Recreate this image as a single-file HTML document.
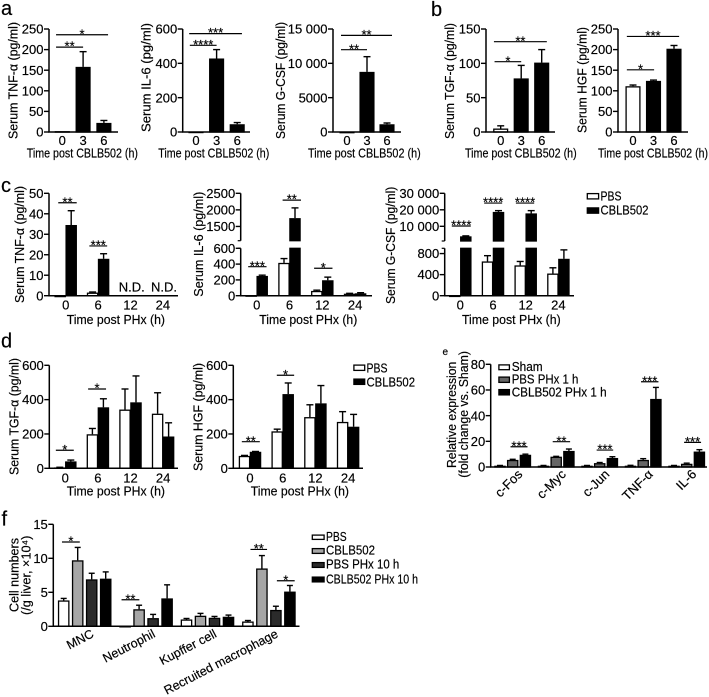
<!DOCTYPE html>
<html lang="en">
<head>
<meta charset="utf-8">
<title>Serum cytokine and cell number charts</title>
<style>
html,body{margin:0;padding:0;background:#fff;}
svg{display:block;font-family:"Liberation Sans",sans-serif;fill:#000;}
text{stroke:#000;stroke-width:.18px;}
</style>
</head>
<body>
<svg id="figure" width="709" height="697" viewBox="0 0 709 697" xmlns="http://www.w3.org/2000/svg"></svg>
<script>
// ---------- DATA ----------
const timeCbl = ['0', '3', '6'];
const timePhx = ['0', '6', '12', '24'];
const geneCats = ['c-Fos', 'c-Myc', 'c-Jun', 'TNF-α', 'IL-6'];
const cellCats = ['MNC', 'Neutrophil', 'Kupffer cell', 'Recruited macrophage'];

const a1Values = [2, 158, 22];
const a1Tops = [2, 195, 28];
const a1Ticks = [0, 50, 100, 150, 200, 250];
const a1Labels = ['0', '50', '100', '150', '200', '250'];

const a2Values = [2, 428, 45];
const a2Tops = [2, 480, 55];
const a2Ticks = [0, 200, 400, 600];
const a2Labels = ['0', '200', '400', '600'];

const a3Values = [30, 8750, 1120];
const a3Tops = [30, 10970, 1310];
const a3Ticks = [0, 5000, 10000, 15000];
const a3Labels = ['0', '5000', '10 000', '15 000'];

const b1Values = [5, 78, 101];
const b1Tops = [9, 97, 120];
const b1Ticks = [0, 50, 100, 150];
const b1Labels = ['0', '50', '100', '150'];

const b2Values = [111, 124, 202];
const b2Tops = [114, 126, 210];
const b2Ticks = [0, 50, 100, 150, 200, 250];
const b2Labels = ['0', '50', '100', '150', '200', '250'];

const c1Pbs = [0, 1.5, null, null];
const c1PbsTops = [0, 1.8, null, null];
const c1Cbl = [34.5, 18, null, null];
const c1CblTops = [41.5, 20.5, null, null];
const c1Ticks = [0, 10, 20, 30, 40, 50];
const c1Labels = ['0', '10', '20', '30', '40', '50'];

const c2Pbs = [5, 415, 60, 25];
const c2PbsTops = [5, 470, 70, 30];
const c2Cbl = [250, 1750, 195, 30];
const c2CblTops = [260, 2060, 235, 38];
const c2Ticks = [0, 200, 400, 600, 1500, 2000, 2500];
const c2Labels = ['0', '200', '400', '600', '1500', '2000', '2500'];

const c3Pbs = [3, 650, 575, 420];
const c3PbsTops = [3, 760, 650, 530];
const c3Cbl = [3900, 18700, 17800, 700];
const c3CblTops = [4200, 19500, 19500, 870];
const c3Ticks = [0, 400, 800, 10000, 20000, 30000];
const c3Labels = ['0', '400', '800', '10 000', '20 000', '30 000'];

const d1Pbs = [5, 198, 342, 318];
const d1PbsTops = [6, 232, 462, 440];
const d1Cbl = [40, 355, 384, 185];
const d1CblTops = [48, 405, 538, 265];
const d1Ticks = [0, 200, 400, 600];
const d1Labels = ['0', '200', '400', '600'];

const d2Pbs = [72, 215, 298, 270];
const d2PbsTops = [75, 228, 370, 330];
const d2Cbl = [96, 432, 378, 242];
const d2CblTops = [98, 497, 482, 314];
const d2Ticks = [0, 200, 400, 600];
const d2Labels = ['0', '200', '400', '600'];

const eSham = [1, 1, 1, 1, 1];
const eShamTops = [1.2, 1.2, 1.2, 1.3, 1.2];
const ePbs = [5.5, 8, 3, 5.5, 2.5];
const ePbsTops = [6, 8.3, 3.5, 6.5, 3];
const eCbl = [9.5, 12.5, 7, 53, 12];
const eCblTops = [10, 14, 8, 62, 13.5];
const eTicks = [0, 20, 40, 60, 80];
const eLabels = ['0', '20', '40', '60', '80'];

const fPbs = [3.8, 0.05, 1.0, 0.7];
const fPbsTops = [4.1, 0.05, 1.15, 0.85];
const fCbl = [9.7, 2.5, 1.55, 8.5];
const fCblTops = [11.6, 3.1, 1.9, 10.4];
const fPbsPhx = [6.9, 1.2, 1.25, 2.4];
const fPbsPhxTops = [7.8, 1.75, 1.45, 2.95];
const fCblPhx = [7.0, 4.1, 1.4, 5.1];
const fCblPhxTops = [8.0, 6.1, 1.65, 6.0];
const fTicks = [0, 5, 10, 15];
const fLabels = ['0', '5', '10', '15'];

// significance annotations: [from category, to category, axis value, stars]
const a1Sig = [[-0.3, 2.2, 236, '*'], [-0.3, 1, 206, '**']];
const a2Sig = [[-0.33, 2.23, 573, '***'], [-0.3, 1, 505, '****']];
const a3Sig = [[-0.3, 2.25, 14070, '**'], [-0.3, 1, 11990, '**']];
const b1Sig = [[-0.33, 2.25, 131.5, '**'], [-0.3, 1, 102.4, '*']];
const b2Sig = [[-0.3, 2.25, 232, '***'], [-0.3, 1.03, 151, '*']];
const c1Sig = [[-0.23, 0.34, 45.4, '**'], [0.73, 1.28, 24.3, '***']];
const c2Sig = [[-0.26, 0.3, 367, '***'], [0.79, 1.35, 2294, '**'], [1.75, 2.31, 347, '*']];
const c3Sig = [[-0.26, 0.32, 10200, '****'], [0.73, 1.28, 24100, '****'], [1.7, 2.26, 24100, '****']];
const d1Sig = [[-0.29, 0.26, 105, '*'], [0.7, 1.25, 462, '*']];
const d2Sig = [[-0.25, 0.3, 155, '**'], [0.82, 1.35, 542, '*']];
const eSig = [[-0.05, 0.34, 15.8, '***'], [0.92, 1.32, 19.7, '**'], [1.93, 2.31, 13.2, '***'], [2.95, 3.35, 66.4, '***'], [3.94, 4.33, 19.2, '***']];
const fSig = [[-0.37, -0.08, 12.4, '*'], [0.6, 0.89, 3.9, '**'], [2.7, 2.97, 11.3, '**'], [3.13, 3.42, 6.7, '*']];

// ---------- DRAWING HELPERS ----------
const NS = 'http://www.w3.org/2000/svg';
const root = document.getElementById('figure');

function make(tag, attrs, parent, name) {
  const el = document.createElementNS(NS, tag);
  for (const k in attrs) el.setAttribute(k, attrs[k]);
  
  
  parent.appendChild(el);
  return el;
}
function text(str, attrs, parent, name) {
  const el = make('text', attrs, parent, name);
  el.textContent = str;
  return el;
}
function line(x1, y1, x2, y2, w, parent, name) {
  return make('line', {x1: x1, y1: y1, x2: x2, y2: y2, stroke: '#000', 'stroke-width': w}, parent, name);
}
function linear(d0, d1, p0, p1) {
  return v => p0 + (v - d0) / (d1 - d0) * (p1 - p0);
}
function broken(lowMax, lowP0, lowP1, upMin, upMax, upP0, upP1) {
  const lo = linear(0, lowMax, lowP0, lowP1);
  const up = linear(upMin, upMax, upP0, upP1);
  const f = v => v <= lowMax ? lo(v) : up(Math.max(v, upMin));
  f.lowMax = lowMax;
  f.lowTop = lowP1;
  f.upBottom = upP0;
  return f;
}
function yTitle(str, x, y0, y1, parent, name) {
  const my = (y0 + y1) / 2;
  text(str, {x: x, y: my, 'font-size': 13, 'text-anchor': 'middle', textLength: y1 - y0, lengthAdjust: 'spacingAndGlyphs', transform: 'rotate(-90 ' + x + ' ' + my + ')'}, parent, name);
}
function xTitle(str, x0, x1, y, parent, name) {
  text(str, {x: (x0 + x1) / 2, y: y, 'font-size': 13, 'text-anchor': 'middle', textLength: x1 - x0, lengthAdjust: 'spacingAndGlyphs'}, parent, name);
}
function panelLetter(str, x, y, size) {
  text(str, {x: x, y: y, 'font-size': size}, root, 'panel-letter-' + str);
}

function drawBar(g, xc, w, base, sc, value, fill, name) {
  const x = xc - w / 2 + 0.6, bw = w - 1.2;
  const attrs = {x: x, width: bw, fill: fill, stroke: '#000', 'stroke-width': 1.3};
  if (sc.lowMax !== undefined && value > sc.lowMax) {
    make('rect', Object.assign({y: sc.lowTop, height: base - sc.lowTop}, attrs), g, name + '-lower');
    const top = sc(value);
    make('rect', Object.assign({y: top + 0.6, height: Math.max(sc.upBottom - top - 0.6, 0)}, attrs), g, name);
  } else {
    const top = sc(value);
    make('rect', Object.assign({y: top + 0.6, height: Math.max(base - top - 0.6, 0.3)}, attrs), g, name);
  }
}

function drawPanel(p) {
  const g = make('g', {}, root, 'panel-' + p.id);
  const sc = p.scale;
  const at = i => p.c0 + i * p.step;

  p.series.forEach(s => {
    s.values.forEach((v, i) => {
      if (v === null) return;
      const xc = at(i) + s.offset;
      const top = s.tops[i];
      if (top !== null && top > v) {
        line(xc, sc(top), xc, sc(v), 1.4, g, 'error-stem');
        line(xc - p.cap / 2, sc(top), xc + p.cap / 2, sc(top), 1.4, g, 'error-cap');
      }
      drawBar(g, xc, p.barW, p.base, sc, v, s.fill, 'bar-' + s.key + '-' + p.cats[i]);
    });
  });

  // x axis
  line(p.axisX - 0.7, p.base, p.xEnd, p.base, 1.5, g, 'x-axis');
  // y axis
  if (sc.lowMax !== undefined) {
    line(p.axisX, p.base, p.axisX, sc.lowTop, 1.5, g, 'y-axis-lower');
    line(p.axisX, sc.upBottom, p.axisX, p.top, 1.5, g, 'y-axis-upper');
    line(p.axisX - 3, sc.lowTop, p.axisX, sc.lowTop, 1.2, g, 'axis-break-tick');
    line(p.axisX - 3, sc.upBottom, p.axisX, sc.upBottom, 1.2, g, 'axis-break-tick');
  } else {
    line(p.axisX, p.base, p.axisX, p.top, 1.5, g, 'y-axis');
  }
  p.ticks.forEach((t, i) => {
    const y = sc(t);
    line(p.axisX - 5, y, p.axisX, y, 1.4, g, 'y-tick');
    text(p.tickLabels[i], {x: p.axisX - 5.5, y: y + 4.6, 'font-size': 13, 'text-anchor': 'end'}, g, 'y-tick-label');
  });

  // category labels
  p.cats.forEach((c, i) => {
    if (p.rot) {
      const x = at(i) + p.rotDx, y = p.rotY;
      text(c, {x: x, y: y, 'font-size': p.rotSize, 'text-anchor': 'end', transform: 'rotate(' + p.rot + ' ' + x + ' ' + y + ')'}, g, 'x-tick-label');
    } else {
      text(c, {x: at(i), y: p.labelY, 'font-size': 13, 'text-anchor': 'middle'}, g, 'x-tick-label');
    }
  });

  // significance brackets
  p.sig.forEach(s => {
    const x0 = at(s[0]), x1 = at(s[1]), y = sc(s[2]);
    line(x0, y, x1, y, 1.2, g, 'significance-line');
    text(s[3], {x: (x0 + x1) / 2, y: y + 3.6, 'font-size': 13, 'text-anchor': 'middle'}, g, 'significance-stars');
  });
}

function legend(items, g) {
  items.forEach(it => {
    make('rect', {x: it.x + 0.6, y: it.y + 0.6, width: it.w - 1.2, height: it.h - 1.2, fill: it.fill, stroke: '#000', 'stroke-width': 1.3}, g, 'legend-swatch-' + it.label);
    text(it.label, {x: it.tx, y: it.ty, 'font-size': 13, textLength: it.tw, lengthAdjust: 'spacingAndGlyphs'}, g, 'legend-entry-' + it.label);
  });
}

// ---------- PANELS ----------
const Y_A = 132, TOP_A = 29;
const aScale = m => linear(0, m, Y_A, TOP_A);
const single = (v, t) => [{key: 'mean', values: v, tops: t, fill: '#000', offset: 0}];
const whiteFirst = (v, t) => [
  {key: 'control', values: v.slice(0, 1), tops: t.slice(0, 1), fill: '#fff', offset: 0},
  {key: 'treated', values: [null].concat(v.slice(1)), tops: [null].concat(t.slice(1)), fill: '#000', offset: 0}
];

panelLetter('a', 1, 15, 20);
panelLetter('b', 431, 16, 20);
panelLetter('c', 1, 192, 20);
panelLetter('d', 1, 347.5, 20);
panelLetter('e', 442.5, 355, 10);
panelLetter('f', 1.5, 525.5, 20);

drawPanel({id: 'a-tnf', axisX: 49, xEnd: 118, base: Y_A, top: TOP_A, scale: aScale(250), c0: 62.3, step: 20.8, cats: timeCbl, barW: 15, cap: 7, labelY: 145, ticks: a1Ticks, tickLabels: a1Labels, sig: a1Sig, series: single(a1Values, a1Tops)});
yTitle('Serum TNF-α (pg/ml)', 17.5, 22, 139, root, 'y-axis-title-a-tnf');
xTitle('Time post CBLB502 (h)', 26.7, 138, 157.7, root, 'x-axis-title-a-tnf');

drawPanel({id: 'a-il6', axisX: 182.7, xEnd: 250, base: Y_A, top: TOP_A, scale: aScale(600), c0: 196, step: 20.6, cats: timeCbl, barW: 15, cap: 7, labelY: 145, ticks: a2Ticks, tickLabels: a2Labels, sig: a2Sig, series: single(a2Values, a2Tops)});
yTitle('Serum IL-6 (pg/ml)', 150.7, 23, 132, root, 'y-axis-title-a-il6');
xTitle('Time post CBLB502 (h)', 158.3, 269.3, 157.7, root, 'x-axis-title-a-il6');

drawPanel({id: 'a-gcsf', axisX: 333, xEnd: 401, base: Y_A, top: TOP_A, scale: aScale(15000), c0: 347, step: 20, cats: timeCbl, barW: 15, cap: 7, labelY: 145, ticks: a3Ticks, tickLabels: a3Labels, sig: a3Sig, series: single(a3Values, a3Tops)});
yTitle('Serum G-CSF (pg/ml)', 285, 22, 139, root, 'y-axis-title-a-gcsf');
xTitle('Time post CBLB502 (h)', 308, 420.7, 157.7, root, 'x-axis-title-a-gcsf');

drawPanel({id: 'b-tgf', axisX: 486, xEnd: 555, base: Y_A, top: TOP_A, scale: aScale(150), c0: 500.7, step: 20.5, cats: timeCbl, barW: 15, cap: 7, labelY: 145, ticks: b1Ticks, tickLabels: b1Labels, sig: b1Sig, series: whiteFirst(b1Values, b1Tops)});
yTitle('Serum TGF-α (pg/ml)', 454, 23, 139, root, 'y-axis-title-b-tgf');
xTitle('Time post CBLB502 (h)', 465, 576.7, 157.7, root, 'x-axis-title-b-tgf');

drawPanel({id: 'b-hgf', axisX: 618, xEnd: 688, base: Y_A, top: TOP_A, scale: aScale(250), c0: 633, step: 20.5, cats: timeCbl, barW: 15, cap: 7, labelY: 145, ticks: b2Ticks, tickLabels: b2Labels, sig: b2Sig, series: whiteFirst(b2Values, b2Tops)});
yTitle('Serum HGF (pg/ml)', 586.7, 27, 133, root, 'y-axis-title-b-hgf');
xTitle('Time post CBLB502 (h)', 598, 708, 157.7, root, 'x-axis-title-b-hgf');

const pair = (a, at, b, bt) => [
  {key: 'pbs', values: a, tops: at, fill: '#fff', offset: -5.5},
  {key: 'cblb502', values: b, tops: bt, fill: '#000', offset: 5.5}
];

drawPanel({id: 'c-tnf', axisX: 49, xEnd: 178, base: 295.7, top: 193.3, scale: linear(0, 50, 295.7, 193.3), c0: 65.7, step: 32.4, cats: timePhx, barW: 11.4, cap: 7, labelY: 309.3, ticks: c1Ticks, tickLabels: c1Labels, sig: c1Sig, series: pair(c1Pbs, c1PbsTops, c1Cbl, c1CblTops)});
yTitle('Serum TNF-α (pg/ml)', 24, 186, 303, root, 'y-axis-title-c-tnf');
xTitle('Time post PHx (h)', 66.7, 165, 324, root, 'x-axis-title-c-tnf');
text('N.D.', {x: 131.7, y: 291.7, 'font-size': 13, 'text-anchor': 'middle'}, root, 'not-detected-12h');
text('N.D.', {x: 164, y: 291.7, 'font-size': 13, 'text-anchor': 'middle'}, root, 'not-detected-24h');

drawPanel({id: 'c-il6', axisX: 240.7, xEnd: 372, base: 295.7, top: 193.3, scale: broken(600, 295.7, 248.3, 1070, 2500, 240.7, 193.3), c0: 256.7, step: 32.8, cats: timePhx, barW: 11.4, cap: 7, labelY: 309.3, ticks: c2Ticks, tickLabels: c2Labels, sig: c2Sig, series: pair(c2Pbs, c2PbsTops, c2Cbl, c2CblTops)});
yTitle('Serum IL-6 (pg/ml)', 203, 191.7, 296.7, root, 'y-axis-title-c-il6');
xTitle('Time post PHx (h)', 259.3, 357.3, 324, root, 'x-axis-title-c-il6');

drawPanel({id: 'c-gcsf', axisX: 444.7, xEnd: 574, base: 295.7, top: 193.3, scale: broken(900, 295.7, 248.3, 1100, 30000, 241, 193.3), c0: 460.3, step: 32.7, cats: timePhx, barW: 11.4, cap: 7, labelY: 309.3, ticks: c3Ticks, tickLabels: c3Labels, sig: c3Sig, series: pair(c3Pbs, c3PbsTops, c3Cbl, c3CblTops)});
yTitle('Serum G-CSF (pg/ml)', 395, 186.7, 304, root, 'y-axis-title-c-gcsf');
xTitle('Time post PHx (h)', 462, 560.7, 324, root, 'x-axis-title-c-gcsf');

const legendC = make('g', {}, root, 'legend-c');
legend([
  {label: 'PBS', fill: '#fff', x: 586.7, y: 193, w: 12.5, h: 6.5, tx: 600.5, ty: 200.5, tw: 21},
  {label: 'CBLB502', fill: '#000', x: 586.7, y: 207.3, w: 12.5, h: 6.5, tx: 600.5, ty: 214.5, tw: 48}
], legendC);

drawPanel({id: 'd-tgf', axisX: 49.3, xEnd: 178, base: 468.3, top: 365.3, scale: linear(0, 600, 468.3, 365.3), c0: 65.3, step: 32.6, cats: timePhx, barW: 11.4, cap: 7, labelY: 482.3, ticks: d1Ticks, tickLabels: d1Labels, sig: d1Sig, series: pair(d1Pbs, d1PbsTops, d1Cbl, d1CblTops)});
yTitle('Serum TGF-α (pg/ml)', 18.7, 358, 475, root, 'y-axis-title-d-tgf');
xTitle('Time post PHx (h)', 66.7, 165, 495.7, root, 'x-axis-title-d-tgf');

drawPanel({id: 'd-hgf', axisX: 233.3, xEnd: 363, base: 468.3, top: 365.3, scale: linear(0, 600, 468.3, 365.3), c0: 250, step: 32.7, cats: timePhx, barW: 11.4, cap: 7, labelY: 482.3, ticks: d2Ticks, tickLabels: d2Labels, sig: d2Sig, series: pair(d2Pbs, d2PbsTops, d2Cbl, d2CblTops)});
yTitle('Serum HGF (pg/ml)', 202.7, 363, 471, root, 'y-axis-title-d-hgf');
xTitle('Time post PHx (h)', 250.7, 349, 495.7, root, 'x-axis-title-d-hgf');

const legendD = make('g', {}, root, 'legend-d');
legend([
  {label: 'PBS', fill: '#fff', x: 353.3, y: 364.5, w: 12, h: 6.5, tx: 366.5, ty: 372.5, tw: 21},
  {label: 'CBLB502', fill: '#000', x: 353.3, y: 378.5, w: 12, h: 6.5, tx: 366.5, ty: 386.5, tw: 48.5}
], legendD);

drawPanel({id: 'e-expression', axisX: 490.7, xEnd: 707, base: 467, top: 364.3, scale: linear(0, 80, 467, 364.3), c0: 512.7, step: 43.5, cats: geneCats, barW: 11.4, cap: 6, rot: -45, rotDx: 10.5, rotY: 475, rotSize: 13, ticks: eTicks, tickLabels: eLabels, sig: eSig, series: [
  {key: 'sham', values: eSham, tops: eShamTops, fill: '#fff', offset: -12.7},
  {key: 'pbs-phx', values: ePbs, tops: ePbsTops, fill: '#666', offset: 0},
  {key: 'cblb502-phx', values: eCbl, tops: eCblTops, fill: '#000', offset: 12.7}
]});
yTitle('Relative expression', 456, 361.7, 468, root, 'y-axis-title-e-line1');
yTitle('(fold change vs. Sham)', 468, 351, 477.7, root, 'y-axis-title-e-line2');

const legendE = make('g', {}, root, 'legend-e');
legend([
  {label: 'Sham', fill: '#fff', x: 498.3, y: 364.3, w: 11.7, h: 6, tx: 511.7, ty: 371, tw: 31},
  {label: 'PBS PHx 1 h', fill: '#666', x: 498.3, y: 376.5, w: 11.7, h: 6.5, tx: 511.7, ty: 383.6, tw: 66.7},
  {label: 'CBLB502 PHx 1 h', fill: '#000', x: 498.3, y: 389, w: 11.7, h: 6.5, tx: 511.7, ty: 396.3, tw: 95}
], legendE);

drawPanel({id: 'f-cell-numbers', axisX: 53.3, xEnd: 299.5, base: 626.3, top: 524.3, scale: linear(0, 15, 626.3, 524.3), c0: 84.7, step: 61.4, cats: cellCats, barW: 11.5, cap: 6, rot: -27.5, rotDx: 10, rotY: 636.5, rotSize: 12.5, ticks: fTicks, tickLabels: fLabels, sig: fSig, series: [
  {key: 'pbs', values: fPbs, tops: fPbsTops, fill: '#fff', offset: -21},
  {key: 'cblb502', values: fCbl, tops: fCblTops, fill: '#a6a6a6', offset: -7},
  {key: 'pbs-phx', values: fPbsPhx, tops: fPbsPhxTops, fill: '#2b2b2b', offset: 7},
  {key: 'cblb502-phx', values: fCblPhx, tops: fCblPhxTops, fill: '#000', offset: 21}
]});
yTitle('Cell numbers', 18.3, 538, 612, root, 'y-axis-title-f-line1');
yTitle('(/g liver, ×10⁴)', 30.7, 535.7, 615, root, 'y-axis-title-f-line2');

const legendF = make('g', {}, root, 'legend-f');
legend([
  {label: 'PBS', fill: '#fff', x: 311.7, y: 534.5, w: 13, h: 5.5, tx: 326, ty: 541, tw: 20.7},
  {label: 'CBLB502', fill: '#a6a6a6', x: 311.7, y: 548, w: 13, h: 6, tx: 326, ty: 554.6, tw: 49},
  {label: 'PBS PHx 10 h', fill: '#2b2b2b', x: 311.7, y: 562, w: 13, h: 6, tx: 326, ty: 568.6, tw: 73.3},
  {label: 'CBLB502 PHx 10 h', fill: '#000', x: 311.7, y: 576.5, w: 13, h: 6, tx: 326, ty: 583.3, tw: 92}
], legendF);
</script>
</body>
</html>
